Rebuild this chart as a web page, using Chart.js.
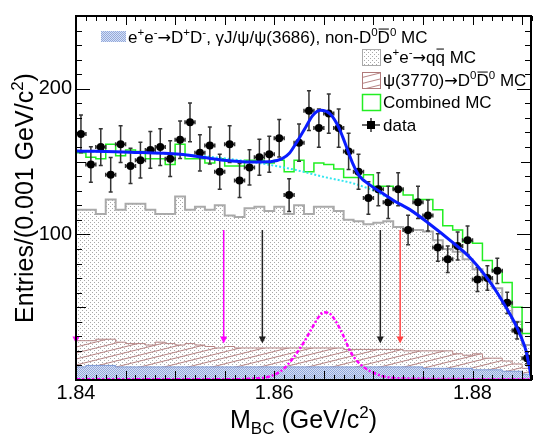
<!DOCTYPE html>
<html>
<head>
<meta charset="utf-8">
<script src="https://cdn.jsdelivr.net/npm/chart.js@4.4.0/dist/chart.umd.min.js"></script>
<style>
    html, body { margin: 0; padding: 0; background: #fff; }
    #js--wrap { position: relative; width: 535px; height: 434px; }
</style>
</head>
<body>
<div id="js--wrap"><canvas id="js--chart"></canvas></div>
<script>
// M_BC bins (bin centres, GeV/c^2), 0.001 wide
const massBins = [1.8405, 1.8415, 1.8425, 1.8435, 1.8445, 1.8455, 1.8465, 1.8475, 1.8485, 1.8495,
    1.8505, 1.8515, 1.8525, 1.8535, 1.8545, 1.8555, 1.8565, 1.8575, 1.8585, 1.8595,
    1.8605, 1.8615, 1.8625, 1.8635, 1.8645, 1.8655, 1.8665, 1.8675, 1.8685, 1.8695,
    1.8705, 1.8715, 1.8725, 1.8735, 1.8745, 1.8755, 1.8765, 1.8775, 1.8785, 1.8795,
    1.8805, 1.8815, 1.8825, 1.8835, 1.8845, 1.8855];
const binHalfWidth = 0.0005;

// data
const dataCounts = [169, 148, 160, 141, 162, 147, 151, 158, 160, 152,
    165, 177, 156, 161, 143, 162, 137, 146, 153, 155,
    166, 127, 163, 185, 173, 183, 173, 157, 143, 125,
    131, 122, 131, 103, 122, 113, 91, 83, 92, 96,
    69, 70, 75, 53, 34, 15];
const dataErrors = [13, 12.2, 12.6, 11.9, 12.7, 12.1, 12.3, 12.6, 12.6, 12.3,
    12.8, 13.3, 12.5, 12.7, 12, 12.7, 11.7, 12.1, 12.4, 12.4,
    12.9, 11.3, 12.8, 13.6, 13.2, 13.5, 13.2, 12.5, 12, 11.2,
    11.4, 11, 11.4, 10.1, 11, 10.6, 9.5, 9.1, 9.6, 9.8,
    8.3, 8.4, 8.7, 7.3, 5.8, 3.9];

// MC components (stacked: nonD0 at the bottom, then psi(3770), then qqbar)
const nonD0MC = [9, 10, 10, 10, 9, 9, 9, 9, 9, 9,
    9, 9, 9, 9, 9, 9, 9, 9, 9, 9,
    9, 9, 9, 9, 9, 9, 9, 9, 9, 9,
    9, 9, 9, 9, 9, 8, 8, 8, 8, 8,
    7, 7, 7, 6, 6, 4];
const psi3770MC = [18, 17, 18, 18, 17, 16, 16, 15, 17, 16,
    15, 16, 15, 14, 13, 14, 13, 13, 13, 13,
    13, 13, 13, 13, 13, 13, 13, 12, 12, 12,
    12, 12, 12, 11, 11, 12, 12, 12, 10, 9,
    11, 8, 8, 7, 5, 4];
const qqbarMC = [90, 90, 86, 96, 91, 96, 96, 93, 88, 89,
    102, 92, 95, 94, 98, 90, 90, 96, 97, 94,
    97, 92, 98, 92, 97, 97, 94, 89, 88, 86,
    87, 88, 84, 84, 83, 82, 76, 70, 70, 66,
    58, 54, 48, 40, 29, 16];
const combinedMC = [156, 153, 152, 162, 154, 158, 157, 152, 152, 148,
    162, 152, 152, 149, 152, 147, 147, 151, 151, 149,
    151, 143, 151, 143, 149, 148, 145, 139, 139, 141,
    133, 133, 131, 127, 124, 124, 117, 106, 103, 95,
    94, 82, 75, 67, 50, 32];

// fit: total, background, signal shape
const fitMass = [1.8400, 1.8455, 1.8505, 1.8529, 1.8549, 1.8576, 1.8596, 1.8608, 1.8615, 1.8622,
    1.8632, 1.8639, 1.8647, 1.8656, 1.8664, 1.8669, 1.8674, 1.8679, 1.8686, 1.8696,
    1.8706, 1.8720, 1.8738, 1.8756, 1.8779, 1.8799, 1.8819, 1.8832, 1.8842, 1.8849,
    1.8854, 1.8857, 1.8860];
const fitTotal = [157.3, 156.5, 155.0, 152.8, 151.0, 149.8, 149.9, 152.0, 155.5, 162.6,
    174.0, 181.8, 185.2, 183.0, 175.0, 167.0, 158.0, 149.0, 140.0, 134.2,
    129.7, 123.5, 116.5, 107.5, 95.0, 83.0, 66.0, 52.0, 40.0, 29.5,
    20.0, 10.0, 0];
const bkgMass = [1.8400, 1.8505, 1.8549, 1.8589, 1.8620, 1.8650, 1.8680, 1.8689, 1.8699, 1.8720,
    1.8738, 1.8756, 1.8779, 1.8799, 1.8819, 1.8832, 1.8842, 1.8849, 1.8854, 1.8860];
const bkgFit = [157.3, 155.0, 152.3, 148.5, 144.5, 139.5, 135.0, 133.0, 130.5, 123.2,
    116.3, 107.3, 94.8, 82.8, 65.8, 51.8, 39.8, 29.3, 19.8, 0];
const sigMass = [1.8400, 1.8550, 1.8580, 1.8600, 1.8610, 1.8620, 1.8630, 1.8640, 1.8645, 1.8650,
    1.8655, 1.8660, 1.8670, 1.8675, 1.8680, 1.8690, 1.8700, 1.8710, 1.8730, 1.8860];
const sigFit = [0.5, 0.5, 1, 3.5, 8, 16, 26, 38, 43.5, 46.5,
    46, 42.5, 30, 22, 16, 9, 5, 2.5, 1, 0.5];

// signal / sideband cut arrows
const cutMass = [1.8400, 1.8549, 1.8588, 1.8707, 1.8727];
const arrowFrom = 103;
const arrowTo = 25;

// axis ticks
const xTickLabels = [1.84, 1.86, 1.88];
const yTickLabels = [100, 200];

const FONT = '"Liberation Sans", Arial, Helvetica, sans-serif';
const cutColors = ['#ff00ff', '#ff00ff', '#222222', '#222222', '#ff4444'];

function histSteps(values) {
    const pts = values.map(function (v, i) {
        return { x: massBins[i] - binHalfWidth, y: v };
    });
    pts.push({ x: massBins[massBins.length - 1] + binHalfWidth, y: values[values.length - 1] });
    return pts;
}

function curve(xs, ys) {
    return xs.map(function (x, i) { return { x: x, y: ys[i] }; });
}

// stacked tops
const blueTop = nonD0MC.slice();
const brownTop = blueTop.map(function (v, i) { return v + psi3770MC[i]; });
const grayTop = brownTop.map(function (v, i) { return v + qqbarMC[i]; });

// fill patterns
function makePattern(w, h, draw) {
    const c = document.createElement('canvas');
    c.width = w;
    c.height = h;
    const g = c.getContext('2d');
    draw(g);
    return g.createPattern(c, 'repeat');
}
const grayDots = makePattern(4, 4, function (g) {
    g.fillStyle = '#ffffff';
    g.fillRect(0, 0, 4, 4);
    g.fillStyle = '#a8a8a8';
    g.fillRect(0, 0, 1, 1);
    g.fillRect(2, 2, 1, 1);
});
const brownHatch = makePattern(24, 6, function (g) {
    g.strokeStyle = 'rgba(175,120,120,0.9)';
    g.lineWidth = 1;
    for (let k = -1; k <= 1; k++) {
        g.beginPath();
        g.moveTo(0, 6 + k * 6);
        g.lineTo(24, 0 + k * 6);
        g.stroke();
    }
});
const blueDots = makePattern(2, 2, function (g) {
    g.fillStyle = '#d6e0f5';
    g.fillRect(0, 0, 2, 2);
    g.fillStyle = '#93a9db';
    g.fillRect(0, 0, 1, 1);
    g.fillRect(1, 1, 1, 1);
});

// tiny TLatex-like parser: ^{..} _{..} #bar{..}, arrows get their own glyph font
function parseLatex(str) {
    const parts = [];
    const re = /\^\{([^}]*)\}|_\{([^}]*)\}|#bar\{([^}]*)\}|(→)|([^^_#→]+)/g;
    let m;
    while ((m = re.exec(str)) !== null) {
        if (m[1] !== undefined) parts.push({ t: m[1], sup: true });
        else if (m[2] !== undefined) parts.push({ t: m[2], sub: true });
        else if (m[3] !== undefined) parts.push({ t: m[3], bar: true });
        else if (m[4] !== undefined) parts.push({ t: m[4], arrow: true });
        else parts.push({ t: m[5] });
    }
    return parts;
}

function partFont(p, size) {
    if (p.arrow) return (size * 0.95) + 'px "DejaVu Sans", ' + FONT;
    return ((p.sup || p.sub) ? size * 0.68 : size) + 'px ' + FONT;
}

function richWidth(ctx, str, size) {
    let w = 0;
    parseLatex(str).forEach(function (p) {
        ctx.font = partFont(p, size);
        w += ctx.measureText(p.t).width;
    });
    return w;
}

function drawRich(ctx, str, x, y, size) {
    let cx = x;
    parseLatex(str).forEach(function (p) {
        const dy = p.sup ? -size * 0.42 : (p.sub ? size * 0.24 : 0);
        ctx.font = partFont(p, size);
        ctx.fillText(p.t, cx, y + dy);
        const w = ctx.measureText(p.t).width;
        if (p.bar) {
            ctx.save();
            ctx.lineWidth = 1;
            ctx.strokeStyle = ctx.fillStyle;
            ctx.beginPath();
            ctx.moveTo(cx + 1, y - size * 0.82);
            ctx.lineTo(cx + w - 1, y - size * 0.82);
            ctx.stroke();
            ctx.restore();
        }
        cx += w;
    });
    return cx - x;
}

const rootStyle = {
    id: 'rootStyle',
    beforeDatasetDraw(chart, args) {
        if (chart.data.datasets[args.index].label !== 'data') return;
        const ctx = chart.ctx, xs = chart.scales.x, ys = chart.scales.y, a = chart.chartArea;
        ctx.save();
        ctx.beginPath();
        ctx.rect(a.left, a.top, a.right - a.left, a.bottom - a.top);
        ctx.clip();
        ctx.strokeStyle = '#333';
        ctx.lineWidth = 1.5;
        massBins.forEach(function (m, i) {
            const px = xs.getPixelForValue(m);
            const py = ys.getPixelForValue(dataCounts[i]);
            const yt = ys.getPixelForValue(dataCounts[i] + dataErrors[i]);
            const yb = ys.getPixelForValue(dataCounts[i] - dataErrors[i]);
            const xl = xs.getPixelForValue(m - binHalfWidth);
            const xr = xs.getPixelForValue(m + binHalfWidth);
            ctx.beginPath();
            ctx.moveTo(px, yt); ctx.lineTo(px, yb);
            ctx.moveTo(px - 2, yt); ctx.lineTo(px + 2, yt);
            ctx.moveTo(px - 2, yb); ctx.lineTo(px + 2, yb);
            ctx.moveTo(xl, py); ctx.lineTo(xr, py);
            ctx.moveTo(xl, py - 2); ctx.lineTo(xl, py + 2);
            ctx.moveTo(xr, py - 2); ctx.lineTo(xr, py + 2);
            ctx.stroke();
        });
        ctx.restore();
    },
    afterDraw(chart) {
        const ctx = chart.ctx, xs = chart.scales.x, ys = chart.scales.y, a = chart.chartArea;
        ctx.save();

        // cut arrows
        cutMass.forEach(function (m, i) {
            const x = xs.getPixelForValue(m);
            const y0 = ys.getPixelForValue(arrowFrom);
            const y1 = ys.getPixelForValue(arrowTo);
            ctx.strokeStyle = cutColors[i];
            ctx.fillStyle = cutColors[i];
            ctx.lineWidth = 1.5;
            ctx.beginPath();
            ctx.moveTo(x, y0);
            ctx.lineTo(x, y1 - 5);
            ctx.stroke();
            ctx.beginPath();
            ctx.moveTo(x - 3.5, y1 - 7);
            ctx.lineTo(x + 3.5, y1 - 7);
            ctx.lineTo(x, y1);
            ctx.closePath();
            ctx.fill();
        });

        // frame + ticks
        ctx.strokeStyle = '#000';
        ctx.lineWidth = 1;
        ctx.beginPath();
        for (let k = 0; k <= 46; k++) {
            const x = Math.round(xs.getPixelForValue((1840 + k) / 1000)) + 0.5;
            const len = (k % 5 === 0) ? 9 : 5;
            ctx.moveTo(x, a.bottom); ctx.lineTo(x, a.bottom - len);
            ctx.moveTo(x, a.top); ctx.lineTo(x, a.top + len);
        }
        for (let v = 0; v <= 250; v += 10) {
            const y = Math.round(ys.getPixelForValue(v)) + 0.5;
            const len = (v % 100 === 0) ? 14 : ((v % 50 === 0) ? 10 : 6);
            ctx.moveTo(a.left, y); ctx.lineTo(a.left + len, y);
            ctx.moveTo(a.right, y); ctx.lineTo(a.right - len, y);
        }
        ctx.stroke();
        ctx.lineWidth = 2;
        ctx.strokeRect(a.left, a.top, a.right - a.left, a.bottom - a.top);

        // axis titles
        ctx.fillStyle = '#000';
        ctx.textBaseline = 'alphabetic';
        ctx.textAlign = 'left';
        const xTitle = 'M_{BC} (GeV/c^{2})';
        const xw = richWidth(ctx, xTitle, 25);
        drawRich(ctx, xTitle, (a.left + a.right) / 2 - xw / 2, 428, 25);

        const yTitle = 'Entries/(0.001 GeV/c^{2})';
        const yw = richWidth(ctx, yTitle, 25);
        ctx.save();
        ctx.translate(33, (a.top + a.bottom) / 2);
        ctx.rotate(-Math.PI / 2);
        drawRich(ctx, yTitle, -yw / 2, 0, 25);
        ctx.restore();

        // legend
        const fs = 17;
        ctx.fillStyle = blueDots;
        ctx.fillRect(101, 31, 25, 11);
        ctx.fillStyle = '#000';
        drawRich(ctx, 'e^{+}e^{-}→D^{+}D^{-}, γJ/ψ/ψ(3686), non-D^{0}#bar{D}^{0} MC', 128, 43, fs);

        const bx = 362, bw = 18, bh = 16;
        const rows = [57, 80, 102, 125];
        // qqbar
        ctx.fillStyle = grayDots;
        ctx.fillRect(bx, rows[0] - bh / 2, bw, bh);
        ctx.strokeStyle = '#aaaaaa';
        ctx.lineWidth = 1;
        ctx.strokeRect(bx + 0.5, rows[0] - bh / 2 + 0.5, bw, bh);
        // psi(3770)
        ctx.fillStyle = '#fff';
        ctx.fillRect(bx, rows[1] - bh / 2, bw, bh);
        ctx.fillStyle = brownHatch;
        ctx.fillRect(bx, rows[1] - bh / 2, bw, bh);
        ctx.strokeStyle = '#b07a7a';
        ctx.strokeRect(bx + 0.5, rows[1] - bh / 2 + 0.5, bw, bh);
        // combined
        ctx.strokeStyle = '#22ee22';
        ctx.lineWidth = 1.5;
        ctx.strokeRect(bx + 0.5, rows[2] - bh / 2 + 0.5, bw, bh);
        // data
        ctx.strokeStyle = '#333';
        ctx.lineWidth = 1.5;
        ctx.beginPath();
        ctx.moveTo(bx, rows[3]); ctx.lineTo(bx + bw, rows[3]);
        ctx.moveTo(bx + bw / 2, rows[3] - 7); ctx.lineTo(bx + bw / 2, rows[3] + 7);
        ctx.stroke();
        ctx.fillStyle = '#000';
        ctx.fillRect(bx + bw / 2 - 4, rows[3] - 4, 8, 8);

        const labels = ['e^{+}e^{-}→q#bar{q} MC', 'ψ(3770)→D^{0}#bar{D}^{0} MC', 'Combined MC', 'data'];
        labels.forEach(function (t, i) {
            drawRich(ctx, t, 383, rows[i] + 6, fs);
        });

        ctx.restore();
    }
};

const config = {
    type: 'line',
    data: {
        datasets: [
            {
                label: 'fit',
                data: curve(fitMass, fitTotal),
                borderColor: '#0a1cff',
                borderWidth: 3,
                pointRadius: 0,
                fill: false,
                cubicInterpolationMode: 'monotone',
                order: 1
            },
            {
                label: 'data',
                data: curve(massBins, dataCounts),
                showLine: false,
                pointRadius: 4,
                pointBackgroundColor: '#000',
                pointBorderColor: '#000',
                pointBorderWidth: 0,
                order: 2
            },
            {
                label: 'background',
                data: curve(bkgMass, bkgFit),
                borderColor: '#33e6f0',
                borderWidth: 2,
                borderDash: [2, 2],
                pointRadius: 0,
                fill: false,
                cubicInterpolationMode: 'monotone',
                order: 3
            },
            {
                label: 'signal',
                data: curve(sigMass, sigFit),
                borderColor: '#ff00ff',
                borderWidth: 2.5,
                borderDash: [4, 2, 2, 2],
                pointRadius: 0,
                fill: false,
                cubicInterpolationMode: 'monotone',
                order: 4
            },
            {
                label: 'Combined MC',
                data: histSteps(combinedMC),
                stepped: true,
                borderColor: '#22ee22',
                borderWidth: 1.5,
                pointRadius: 0,
                fill: false,
                order: 5
            },
            {
                label: 'non-D0D0bar MC',
                data: histSteps(blueTop),
                stepped: true,
                borderColor: '#7f9bd6',
                borderWidth: 1,
                backgroundColor: blueDots,
                pointRadius: 0,
                fill: 'origin',
                order: 6
            },
            {
                label: 'psi(3770) MC',
                data: histSteps(brownTop),
                stepped: true,
                borderColor: '#b58585',
                borderWidth: 1,
                backgroundColor: brownHatch,
                pointRadius: 0,
                fill: 'origin',
                order: 7
            },
            {
                label: 'qqbar MC',
                data: histSteps(grayTop),
                stepped: true,
                borderColor: '#aaaaaa',
                borderWidth: 2,
                backgroundColor: grayDots,
                pointRadius: 0,
                fill: 'origin',
                order: 8
            }
        ]
    },
    options: {
        responsive: true,
        maintainAspectRatio: false,
        animation: false,
        devicePixelRatio: 1,
        layout: { padding: { top: 12, right: 0, left: 0, bottom: 0 } },
        plugins: {
            legend: { display: false },
            tooltip: { enabled: false }
        },
        scales: {
            x: {
                type: 'linear',
                min: 1.84,
                max: 1.8859,
                grid: { display: false, drawTicks: false },
                border: { display: false },
                afterBuildTicks: function (s) {
                    s.ticks = xTickLabels.map(function (v) { return { value: v }; });
                },
                afterFit: function (s) { s.height = 54; },
                ticks: {
                    padding: 1,
                    color: '#000',
                    maxRotation: 0,
                    autoSkip: false,
                    font: { family: 'Liberation Sans', size: 20 },
                    callback: function (v) { return v.toFixed(2); }
                }
            },
            y: {
                type: 'linear',
                min: 0,
                max: 250,
                grid: { display: false, drawTicks: false },
                border: { display: false },
                afterBuildTicks: function (s) {
                    s.ticks = yTickLabels.map(function (v) { return { value: v }; });
                },
                afterFit: function (s) { s.width = 76; },
                ticks: {
                    padding: 4,
                    color: '#000',
                    font: { family: 'Liberation Sans', size: 20 },
                    callback: function (v) { return String(v); }
                }
            }
        }
    },
    plugins: [rootStyle]
};

new Chart(document.getElementById('js--chart'), config);
</script>
</body>
</html>
